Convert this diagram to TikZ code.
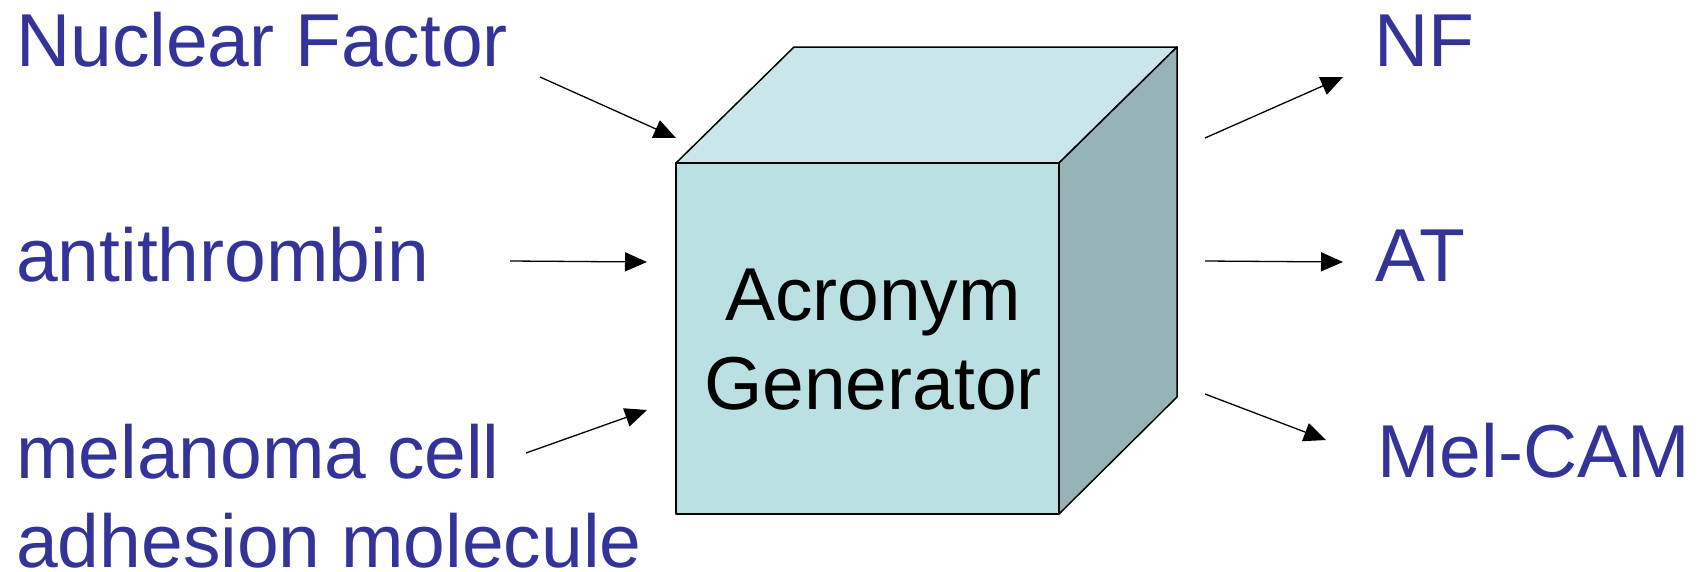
\documentclass[tikz,border=0pt]{standalone}
\usepackage{fontspec}
\setmainfont{Liberation Sans}
\usetikzlibrary{arrows.meta}

\definecolor{labelblue}{HTML}{333399}
\definecolor{cubefront}{HTML}{BBE0E3}
\definecolor{cubetop}{HTML}{C9E7EA}
\definecolor{cubeside}{HTML}{96B3B6}

\begin{document}
\begin{tikzpicture}[x=1pt, y=-1pt,
        every node/.style = {inner sep=0pt, font=\fontsize{75}{89}\selectfont},
        term/.style = {anchor=base west, text=labelblue, align=left},
        face/.style = {draw=black, line width=1.5pt, line join=round},
        feed/.style = {draw=black, line width=1.3pt,
        -{Triangle[length=22pt,width=19pt]}}]
    \useasboundingbox (0,0) rectangle (1704,571);
    % cube corners
    \coordinate (fnw) at (676,163);
    \coordinate (fne) at (1059,163);
    \coordinate (fse) at (1059,514);
    \coordinate (fsw) at (676,514);
    \coordinate (bnw) at (794,47);
    \coordinate (bne) at (1177,47);
    \coordinate (bse) at (1177,397);
    \path[face, fill=cubetop] (fnw) -- (bnw) -- (bne) -- (fne) -- cycle;
    \path[face, fill=cubeside] (fne) -- (bne) -- (bse) -- (fse) -- cycle;
    \path[face, fill=cubefront] (fnw) rectangle (fse);
    \node[align=center] (box) at (873,340) {Acronym\\Generator};
    % full names
    \node[term] (nuc) at (16,66) {Nuclear Factor};
    \node[term] (anti) at (16,281) {antithrombin};
    \node[term] (mel) at (16,567) {melanoma cell\\adhesion molecule};
    % acronyms
    \node[term] (nf) at (1374,66) {NF};
    \node[term] (at) at (1375,281) {AT};
    \node[term] (melcam) at (1377,477) {Mel-CAM};
    % arrow ends
    \coordinate (in1) at (540,77);   \coordinate (in1e) at (676,138);
    \coordinate (in2) at (510,261);  \coordinate (in2e) at (647,262);
    \coordinate (in3) at (526,453);  \coordinate (in3e) at (647,410);
    \coordinate (out1) at (1205,138); \coordinate (out1e) at (1343,77);
    \coordinate (out2) at (1205,261); \coordinate (out2e) at (1343,262);
    \coordinate (out3) at (1205,394); \coordinate (out3e) at (1326,440);
    \draw[feed] (in1) -- (in1e);
    \draw[feed] (in2) -- (in2e);
    \draw[feed] (in3) -- (in3e);
    \draw[feed] (out1) -- (out1e);
    \draw[feed] (out2) -- (out2e);
    \draw[feed] (out3) -- (out3e);
\end{tikzpicture}
\end{document}
